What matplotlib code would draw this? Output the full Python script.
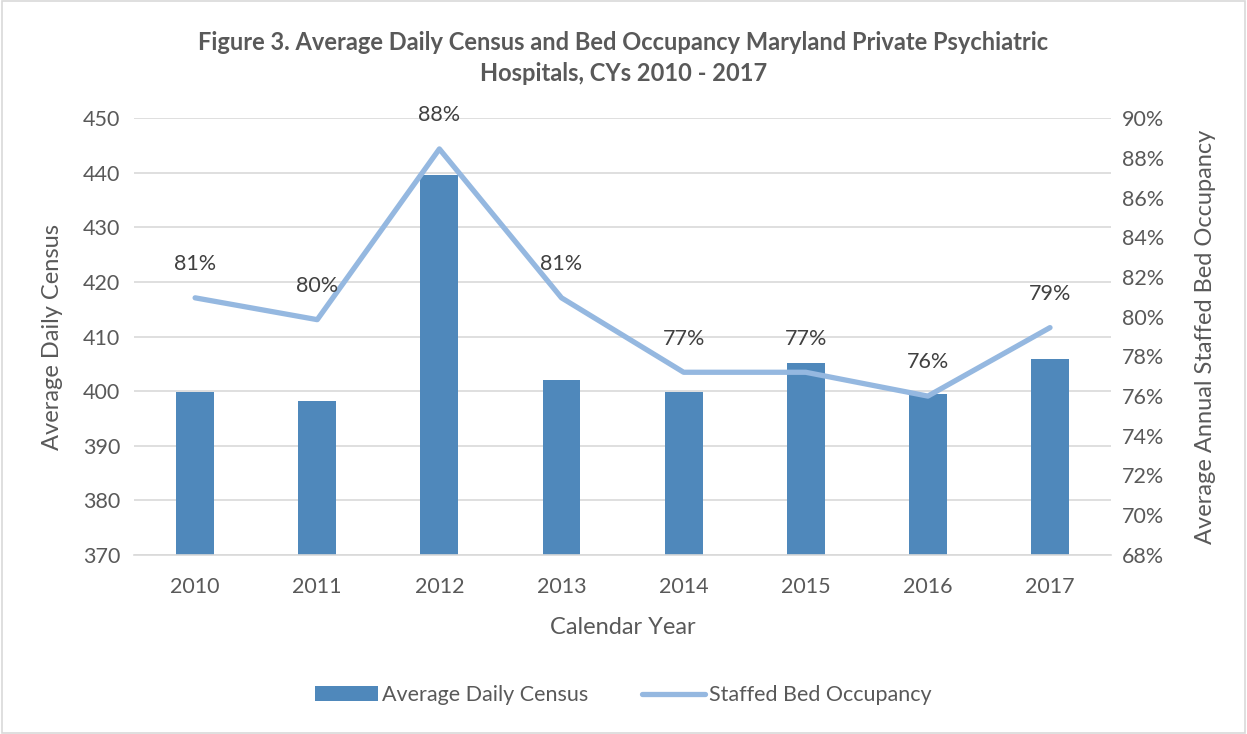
import matplotlib.pyplot as plt
from matplotlib.ticker import FuncFormatter
from matplotlib.patches import Rectangle

years = ["2010", "2011", "2012", "2013", "2014", "2015", "2016", "2017"]
census = [399.9, 398.2, 439.6, 402.0, 399.8, 405.2, 399.5, 405.9]
occupancy = [80.95, 79.85, 88.45, 80.95, 77.2, 77.2, 76.0, 79.45]
occ_labels = ["81%", "80%", "88%", "81%", "77%", "77%", "76%", "79%"]

plt.rcParams["font.family"] = ["Lato", "DejaVu Sans"]
gray = "#595959"

fig = plt.figure(figsize=(12.47, 7.34), dpi=100)
fig.patches.append(Rectangle((0.002, 0.002), 0.996, 0.996, transform=fig.transFigure,
                             fill=False, edgecolor="#d9d9d9", linewidth=1.2))
ax = fig.add_axes([0.1075, 0.244, 0.7835, 0.595])
x = range(len(years))

bars = ax.bar(x, census, width=0.31, color="#4f88bb", zorder=2, label="Average Daily Census")
ax.set_ylim(370, 450)
ax.set_yticks(range(370, 451, 10))
ax.set_xlim(-0.5, len(years) - 0.5)
ax.set_xticks(list(x))
ax.set_xticklabels(years)
ax.yaxis.grid(True, color="#d9d9d9", linewidth=1.2, zorder=0)
ax.set_axisbelow(True)
for s in ["top", "right", "left"]:
    ax.spines[s].set_visible(False)
ax.spines["bottom"].set_color("#d9d9d9")
ax.spines["bottom"].set_linewidth(1.2)
ax.tick_params(axis="y", length=0, labelsize=15.5, colors=gray, pad=10)
ax.tick_params(axis="x", length=0, labelsize=15.5, colors=gray, pad=16)
ax.set_ylabel("Average Daily Census", fontsize=17, color=gray, labelpad=14)
ax.set_xlabel("Calendar Year", fontsize=17, color=gray, labelpad=14)

ax2 = ax.twinx()
line, = ax2.plot(list(x), occupancy, color="#95b8e0", linewidth=3.8, zorder=3,
                 solid_capstyle="round", label="Staffed Bed Occupancy")
ax2.set_ylim(68, 90)
ax2.set_yticks(range(68, 91, 2))
ax2.yaxis.set_major_formatter(FuncFormatter(lambda v, p: f"{v:.0f}%"))
for s in ["top", "right", "left", "bottom"]:
    ax2.spines[s].set_visible(False)
ax2.tick_params(length=0, labelsize=15.5, colors=gray, pad=8)
ax2.set_ylabel("Average Annual Staffed Bed Occupancy", fontsize=17, color=gray, labelpad=22)

for xi, v, lab in zip(x, occupancy, occ_labels):
    ax2.annotate(lab, (xi, v), xytext=(0, 17), textcoords="offset points",
                 ha="center", va="bottom", fontsize=15.5, color="#404040")

fig.suptitle("Figure 3. Average Daily Census and Bed Occupancy Maryland Private Psychiatric\nHospitals, CYs 2010 - 2017",
             fontsize=17, fontweight="bold", color=gray, y=0.958, linespacing=1.45)

fig.legend([bars, line], ["Average Daily Census", "Staffed Bed Occupancy"],
           loc="center", bbox_to_anchor=(0.5, 0.053), ncol=2, frameon=False,
           fontsize=15.5, labelcolor=gray, handlelength=2.9, columnspacing=2.5,
           handletextpad=0.2)

fig.savefig("out.png", dpi=100)
